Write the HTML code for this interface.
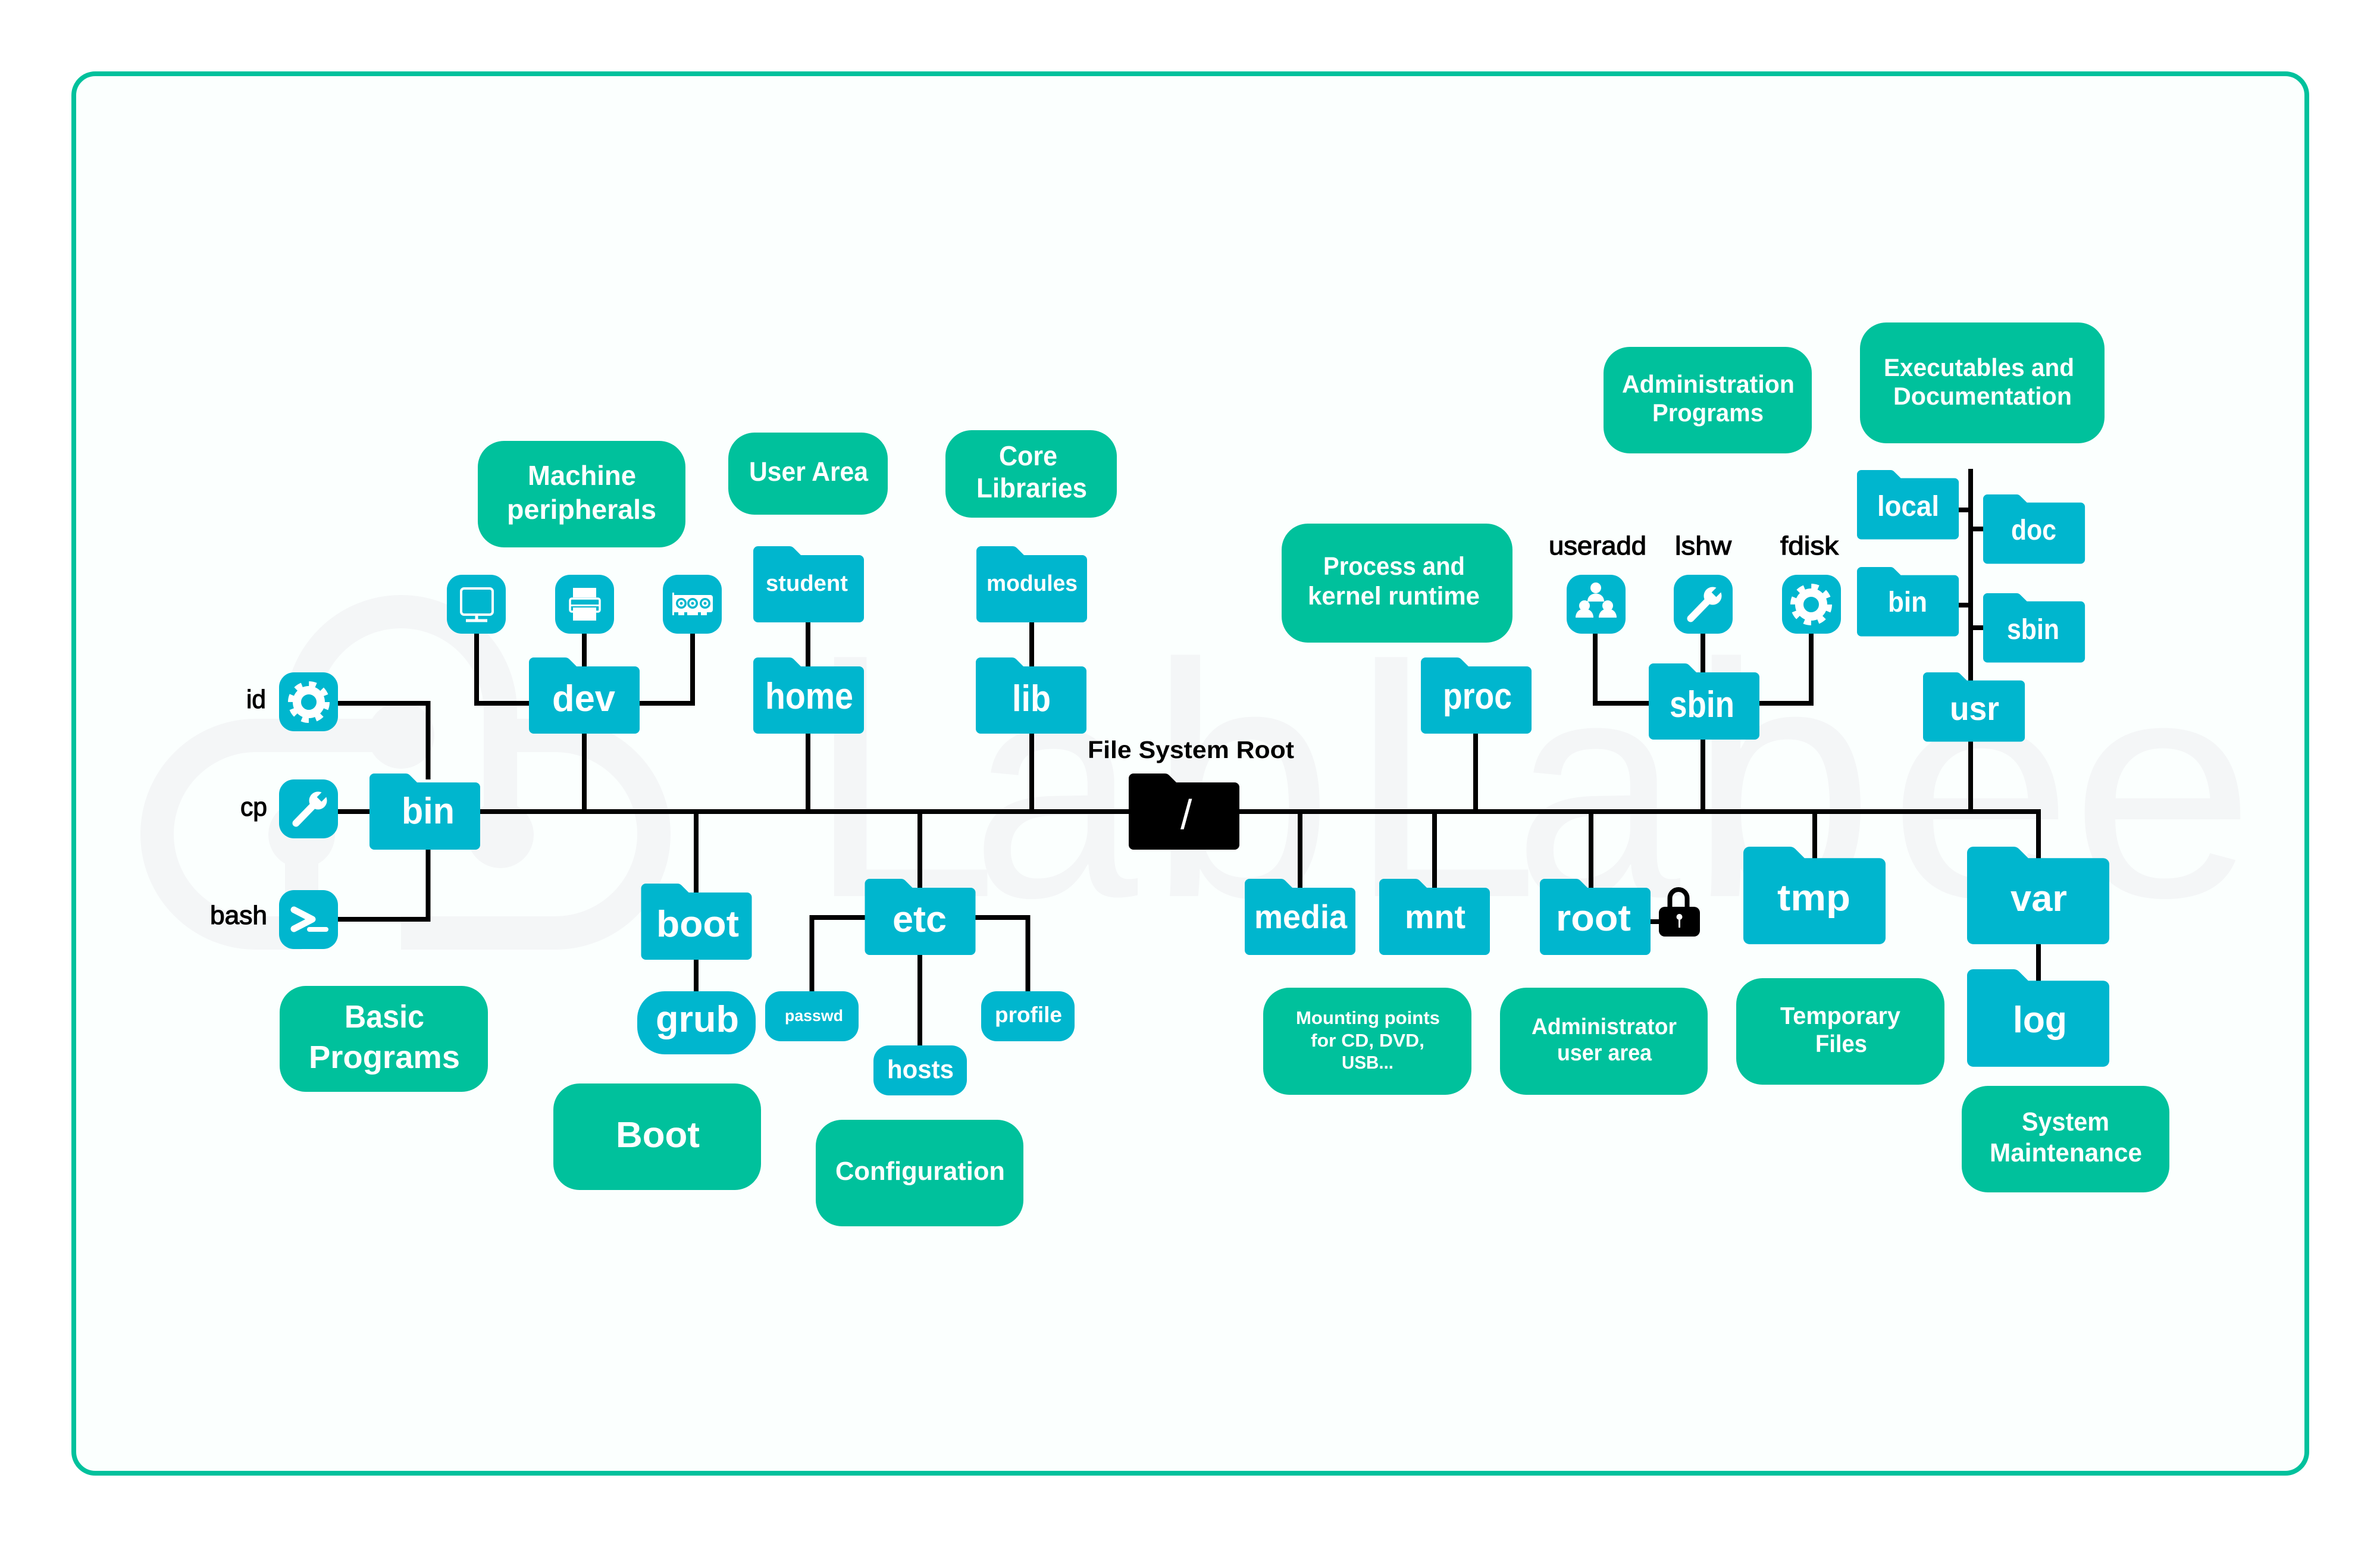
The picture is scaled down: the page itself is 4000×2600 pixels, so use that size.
<!DOCTYPE html>
<html>
<head>
<meta charset="utf-8">
<title>Linux File System</title>
<style>
html,body{margin:0;padding:0;background:#fff;width:4000px;height:2600px;overflow:hidden}
svg{display:block}
text{font-family:"Liberation Sans",sans-serif;font-weight:700;fill:#fff}
.k{fill:#000}
.m{fill:#000;font-weight:400;stroke:#000;stroke-width:1.2}
.wm{font-weight:400;fill:#f4f6f7;font-size:584px}
</style>
</head>
<body>
<svg xmlns="http://www.w3.org/2000/svg" width="4000" height="2600" viewBox="0 0 4000 2600">
<defs>
<path id="f" d="M0,8a8,8 0 0 1 8,-8H61q4,0 7,3L80,15H178a8,8 0 0 1 8,8V120a8,8 0 0 1 -8,8H8a8,8 0 0 1 -8,-8Z"/>
<g id="gear" fill="none" stroke="#fff">
<circle r="20" stroke-width="14"/>
<circle r="30" stroke-width="10" stroke-dasharray="11.8 11.76"/>
</g>
<g id="wrench">
<line x1="-21" y1="24" x2="12" y2="-10" stroke="#fff" stroke-width="12" stroke-linecap="round"/>
<circle cx="16" cy="-14" r="15" fill="#fff"/>
<line x1="18" y1="-16" x2="32" y2="-30" stroke="#00B6CE" stroke-width="11"/>
</g>
</defs>

<rect x="124" y="124" width="3753" height="2352" rx="36" fill="#FBFFFE" stroke="#00C19C" stroke-width="8"/>

<!-- watermark -->
<g fill="none" stroke="#f4f6f7" stroke-width="56">
<path d="M507,1568H430A166,166 0 0 1 430,1236H674"/>
<path d="M841,1236H933A166,166 0 0 1 933,1568H674"/>
<path d="M507,1236V1195A167,167 0 0 1 841,1195V1403"/>
<path d="M507,1403V1568"/>
</g>
<g fill="#f4f6f7">
<circle cx="674" cy="1236" r="56"/>
<circle cx="507" cy="1403" r="56"/>
<circle cx="841" cy="1403" r="56"/>
</g>
<text class="wm" y="1506" x="1354">L</text>
<text class="wm" y="1506" x="1632" style="font-size:525px" textLength="280" lengthAdjust="spacingAndGlyphs">a</text>
<text class="wm" y="1506" x="1930" style="font-size:560px">b</text>
<text class="wm" y="1506" x="2263">L</text>
<text class="wm" y="1506" x="2544" style="font-size:525px" textLength="280" lengthAdjust="spacingAndGlyphs">a</text>
<text class="wm" y="1506" x="2839" style="font-size:560px">b</text>
<text class="wm" y="1506" x="3174" style="font-size:525px" textLength="310" lengthAdjust="spacingAndGlyphs">e</text>
<text class="wm" y="1506" x="3480" style="font-size:525px" textLength="310" lengthAdjust="spacingAndGlyphs">e</text>

<!-- connectors -->
<g fill="none" stroke="#000" stroke-width="8">
<path d="M806,1364H3430"/>
<path d="M568,1182H719.500V1310"/>
<path d="M568,1545H719.500V1420"/>
<path d="M568,1364H630"/>
<path d="M982,1060V1364"/>
<path d="M801,1060V1182H895"/>
<path d="M1164,1060V1182H1070"/>
<path d="M1358,1040V1364"/>
<path d="M1734,1040V1364"/>
<path d="M2480,1225V1364"/>
<path d="M2862,1060V1364"/>
<path d="M2681,1060V1182H2780"/>
<path d="M3044,1060V1182H2950"/>
<path d="M3312,788V1364"/>
<path d="M3285,857H3312"/>
<path d="M3285,1017H3312"/>
<path d="M3312,889H3340"/>
<path d="M3312,1055H3340"/>
<path d="M1170,1364V1670"/>
<path d="M1546,1364V1760"/>
<path d="M1460,1542H1364.500V1670"/>
<path d="M1630,1542H1727.500V1670"/>
<path d="M2185,1364V1495"/>
<path d="M2411,1364V1495"/>
<path d="M2674,1364V1495"/>
<path d="M3050,1364V1445"/>
<path d="M3426,1360V1650"/>
<path d="M2770,1549H2792"/>
</g>

<!-- green boxes -->
<g fill="#00C19C">
<rect x="803" y="741" width="349" height="179" rx="44"/>
<rect x="1224" y="727" width="268" height="138" rx="44"/>
<rect x="1589" y="723" width="288" height="147" rx="44"/>
<rect x="2154" y="880" width="388" height="200" rx="44"/>
<rect x="2695" y="583" width="350" height="179" rx="44"/>
<rect x="3126" y="542" width="411" height="203" rx="44"/>
<rect x="470" y="1657" width="350" height="178" rx="44"/>
<rect x="930" y="1821" width="349" height="179" rx="44"/>
<rect x="1371" y="1882" width="349" height="179" rx="44"/>
<rect x="2123" y="1660" width="350" height="180" rx="44"/>
<rect x="2521" y="1660" width="349" height="180" rx="44"/>
<rect x="2918" y="1644" width="350" height="179" rx="44"/>
<rect x="3297" y="1825" width="349" height="179" rx="44"/>
</g>

<!-- folders -->
<g fill="#00B6CE">
<use href="#f" transform="translate(889,1105)"/>
<use href="#f" transform="translate(1266,1105)"/>
<use href="#f" transform="translate(1640,1105)"/>
<use href="#f" transform="translate(2388,1105)"/>
<use href="#f" transform="translate(2771,1115)"/>
<use href="#f" transform="translate(1266,918)"/>
<use href="#f" transform="translate(1641,918)"/>
<use href="#f" transform="translate(621,1300)"/>
<use href="#f" transform="translate(1077.500,1485)"/>
<use href="#f" transform="translate(1453.500,1477)"/>
<use href="#f" transform="translate(2092,1477)"/>
<use href="#f" transform="translate(2318,1477)"/>
<use href="#f" transform="translate(2588,1477)"/>
<use href="#f" transform="translate(3121,790) scale(.92,.91)"/>
<use href="#f" transform="translate(3121,953) scale(.92,.91)"/>
<use href="#f" transform="translate(3333,831) scale(.92,.91)"/>
<use href="#f" transform="translate(3333,997) scale(.92,.91)"/>
<use href="#f" transform="translate(3232,1130) scale(.92,.91)"/>
<use href="#f" transform="translate(2930,1423) scale(1.285,1.28)"/>
<use href="#f" transform="translate(3306,1423) scale(1.285,1.28)"/>
<use href="#f" transform="translate(3306,1629) scale(1.285,1.28)"/>
<!-- rounded file nodes -->
<rect x="1071" y="1666" width="199" height="106" rx="46"/>
<rect x="1286" y="1666" width="157" height="84" rx="26"/>
<rect x="1649" y="1666" width="157" height="84" rx="26"/>
<rect x="1468" y="1757" width="157" height="84" rx="26"/>
<!-- icon tiles -->
<rect x="751" y="966" width="99" height="99" rx="25"/>
<rect x="933" y="966" width="99" height="99" rx="25"/>
<rect x="1114" y="966" width="99" height="99" rx="25"/>
<rect x="469" y="1130" width="99" height="99" rx="25"/>
<rect x="469" y="1310" width="99" height="99" rx="25"/>
<rect x="469" y="1496" width="99" height="99" rx="25"/>
<rect x="2633" y="966" width="99" height="99" rx="25"/>
<rect x="2813" y="966" width="99" height="99" rx="25"/>
<rect x="2995" y="966" width="99" height="99" rx="25"/>
</g>
<use href="#f" transform="translate(1897,1300)" fill="#000"/>

<!-- icon glyphs -->
<g fill="none" stroke="#fff">
<rect x="775" y="989" width="53" height="44" rx="5" stroke-width="4"/>
<path d="M801,1034V1041M783,1043H819" stroke-width="5"/>
<rect x="958" y="1006" width="50" height="22" rx="3" stroke-width="3.500"/>
</g>
<g fill="#fff">
<rect x="963" y="988" width="39" height="16"/>
<rect x="958" y="1016" width="50" height="3"/>
<rect x="963" y="1021" width="39" height="22"/>
<rect x="1130" y="996" width="3" height="38"/>
<rect x="1130" y="1000" width="68" height="29" rx="4"/>
<rect x="1140" y="1029" width="10" height="5"/>
<rect x="1155" y="1029" width="18" height="5"/>
<rect x="1178" y="1029" width="10" height="5"/>
</g>
<g fill="#00B6CE">
<circle cx="1145" cy="1014" r="9"/>
<circle cx="1164" cy="1014" r="9"/>
<circle cx="1185" cy="1014" r="9"/>
</g>
<g fill="none" stroke="#fff" stroke-width="3">
<circle cx="1145" cy="1014" r="4"/>
<circle cx="1164" cy="1014" r="4"/>
<circle cx="1185" cy="1014" r="4"/>
</g>
<use href="#gear" transform="translate(519,1180)"/>
<use href="#gear" transform="translate(3044,1016)"/>
<use href="#wrench" transform="translate(518.500,1359.500)"/>
<use href="#wrench" transform="translate(2862.500,1015.500)"/>
<path d="M494,1529L525,1545L494,1561" fill="none" stroke="#fff" stroke-width="11" stroke-linecap="round" stroke-linejoin="round"/>
<path d="M520,1562H548" fill="none" stroke="#fff" stroke-width="8" stroke-linecap="round"/>
<g fill="#fff">
<circle cx="2682" cy="988" r="9"/>
<path d="M2668,1011c0,-18 28,-18 28,0Z"/>
<circle cx="2663" cy="1018" r="9"/>
<path d="M2648,1038c0,-20 30,-20 30,0Z"/>
<circle cx="2702" cy="1018" r="9"/>
<path d="M2687,1038c0,-20 30,-20 30,0Z"/>
</g>

<!-- lock -->
<path d="M2806.500,1526V1509.500a14.500,14.500 0 0 1 29,0V1526" fill="none" stroke="#000" stroke-width="8"/>
<rect x="2788" y="1524" width="69" height="50" rx="10" fill="#000"/>
<circle cx="2822.500" cy="1541" r="5" fill="#fff"/>
<path d="M2822.500,1541V1559" stroke="#fff" stroke-width="3"/>

<!-- folder labels -->
<g font-size="62">
<text x="928" y="1195" textLength="106" lengthAdjust="spacingAndGlyphs">dev</text>
<text x="1286" y="1191" textLength="148" lengthAdjust="spacingAndGlyphs">home</text>
<text x="1701" y="1195" textLength="65" lengthAdjust="spacingAndGlyphs">lib</text>
<text x="2425" y="1191" textLength="116" lengthAdjust="spacingAndGlyphs">proc</text>
<text x="2806" y="1205" textLength="109" lengthAdjust="spacingAndGlyphs">sbin</text>
<text x="675" y="1384" textLength="89" lengthAdjust="spacingAndGlyphs">bin</text>
<text x="1103" y="1574" textLength="139" lengthAdjust="spacingAndGlyphs">boot</text>
<text x="1102" y="1734" textLength="140" lengthAdjust="spacingAndGlyphs">grub</text>
<text x="1500" y="1566" textLength="91" lengthAdjust="spacingAndGlyphs">etc</text>
<text x="2108" y="1560" textLength="156" lengthAdjust="spacingAndGlyphs" font-size="56">media</text>
<text x="2361" y="1560" textLength="102" lengthAdjust="spacingAndGlyphs" font-size="56">mnt</text>
<text x="2615" y="1564" textLength="126" lengthAdjust="spacingAndGlyphs">root</text>
<text x="2987" y="1530" textLength="123" lengthAdjust="spacingAndGlyphs">tmp</text>
<text x="3379" y="1531" textLength="95" lengthAdjust="spacingAndGlyphs">var</text>
<text x="3383" y="1735" textLength="91" lengthAdjust="spacingAndGlyphs">log</text>
<text x="3277" y="1210" textLength="83" lengthAdjust="spacingAndGlyphs" font-size="56">usr</text>
</g>
<g font-size="48">
<text x="3155" y="867" textLength="104" lengthAdjust="spacingAndGlyphs">local</text>
<text x="3380" y="907" textLength="76" lengthAdjust="spacingAndGlyphs">doc</text>
<text x="3173" y="1028" textLength="66" lengthAdjust="spacingAndGlyphs">bin</text>
<text x="3373" y="1074" textLength="88" lengthAdjust="spacingAndGlyphs">sbin</text>
</g>
<text x="1287" y="993" font-size="38" textLength="138" lengthAdjust="spacingAndGlyphs">student</text>
<text x="1658" y="993" font-size="38" textLength="153" lengthAdjust="spacingAndGlyphs">modules</text>
<text x="1319" y="1716" font-size="27" textLength="98" lengthAdjust="spacingAndGlyphs">passwd</text>
<text x="1672" y="1718" font-size="37" textLength="113" lengthAdjust="spacingAndGlyphs">profile</text>
<text x="1491" y="1812" font-size="44" textLength="112" lengthAdjust="spacingAndGlyphs">hosts</text>
<text x="1984" y="1393" font-size="70" style="font-weight:400">/</text>

<!-- green box labels -->
<text x="887" y="815" font-size="46" textLength="182" lengthAdjust="spacingAndGlyphs">Machine</text>
<text x="852" y="872" font-size="46" textLength="251" lengthAdjust="spacingAndGlyphs">peripherals</text>
<text x="1259" y="808" font-size="45" textLength="200" lengthAdjust="spacingAndGlyphs">User Area</text>
<text x="1679" y="782" font-size="46" textLength="98" lengthAdjust="spacingAndGlyphs">Core</text>
<text x="1641" y="836" font-size="46" textLength="186" lengthAdjust="spacingAndGlyphs">Libraries</text>
<text x="2224" y="966" font-size="43" textLength="238" lengthAdjust="spacingAndGlyphs">Process and</text>
<text x="2198" y="1016" font-size="43" textLength="289" lengthAdjust="spacingAndGlyphs">kernel runtime</text>
<text x="2726" y="660" font-size="42" textLength="290" lengthAdjust="spacingAndGlyphs">Administration</text>
<text x="2777" y="708" font-size="42" textLength="187" lengthAdjust="spacingAndGlyphs">Programs</text>
<text x="3166" y="632" font-size="42" textLength="320" lengthAdjust="spacingAndGlyphs">Executables and</text>
<text x="3182" y="680" font-size="42" textLength="300" lengthAdjust="spacingAndGlyphs">Documentation</text>
<text x="579" y="1727" font-size="54" textLength="134" lengthAdjust="spacingAndGlyphs">Basic</text>
<text x="519" y="1795" font-size="54" textLength="254" lengthAdjust="spacingAndGlyphs">Programs</text>
<text x="1035" y="1928" font-size="61" textLength="141" lengthAdjust="spacingAndGlyphs">Boot</text>
<text x="1404" y="1983" font-size="44" textLength="285" lengthAdjust="spacingAndGlyphs">Configuration</text>
<text x="2178" y="1721" font-size="31" textLength="242" lengthAdjust="spacingAndGlyphs">Mounting points</text>
<text x="2203" y="1759" font-size="31" textLength="191" lengthAdjust="spacingAndGlyphs">for CD, DVD,</text>
<text x="2255" y="1796" font-size="31" textLength="87" lengthAdjust="spacingAndGlyphs">USB...</text>
<text x="2574" y="1738" font-size="38" textLength="244" lengthAdjust="spacingAndGlyphs">Administrator</text>
<text x="2617" y="1782" font-size="38" textLength="159" lengthAdjust="spacingAndGlyphs">user area</text>
<text x="2992" y="1721" font-size="41" textLength="202" lengthAdjust="spacingAndGlyphs">Temporary</text>
<text x="3051" y="1768" font-size="41" textLength="87" lengthAdjust="spacingAndGlyphs">Files</text>
<text x="3398" y="1900" font-size="44" textLength="147" lengthAdjust="spacingAndGlyphs">System</text>
<text x="3344" y="1952" font-size="44" textLength="256" lengthAdjust="spacingAndGlyphs">Maintenance</text>

<!-- black labels -->
<text class="k" x="1828" y="1274" font-size="41" textLength="347" lengthAdjust="spacingAndGlyphs">File System Root</text>
<text class="m" x="414" y="1190" font-size="44" textLength="33" lengthAdjust="spacingAndGlyphs">id</text>
<text class="m" x="404" y="1371" font-size="44" textLength="45" lengthAdjust="spacingAndGlyphs">cp</text>
<text class="m" x="353" y="1553" font-size="44" textLength="96" lengthAdjust="spacingAndGlyphs">bash</text>
<text class="m" x="2603" y="932" font-size="44" textLength="164" lengthAdjust="spacingAndGlyphs">useradd</text>
<text class="m" x="2815" y="932" font-size="44" textLength="95" lengthAdjust="spacingAndGlyphs">lshw</text>
<text class="m" x="2992" y="932" font-size="44" textLength="98" lengthAdjust="spacingAndGlyphs">fdisk</text>
</svg>
</body>
</html>
